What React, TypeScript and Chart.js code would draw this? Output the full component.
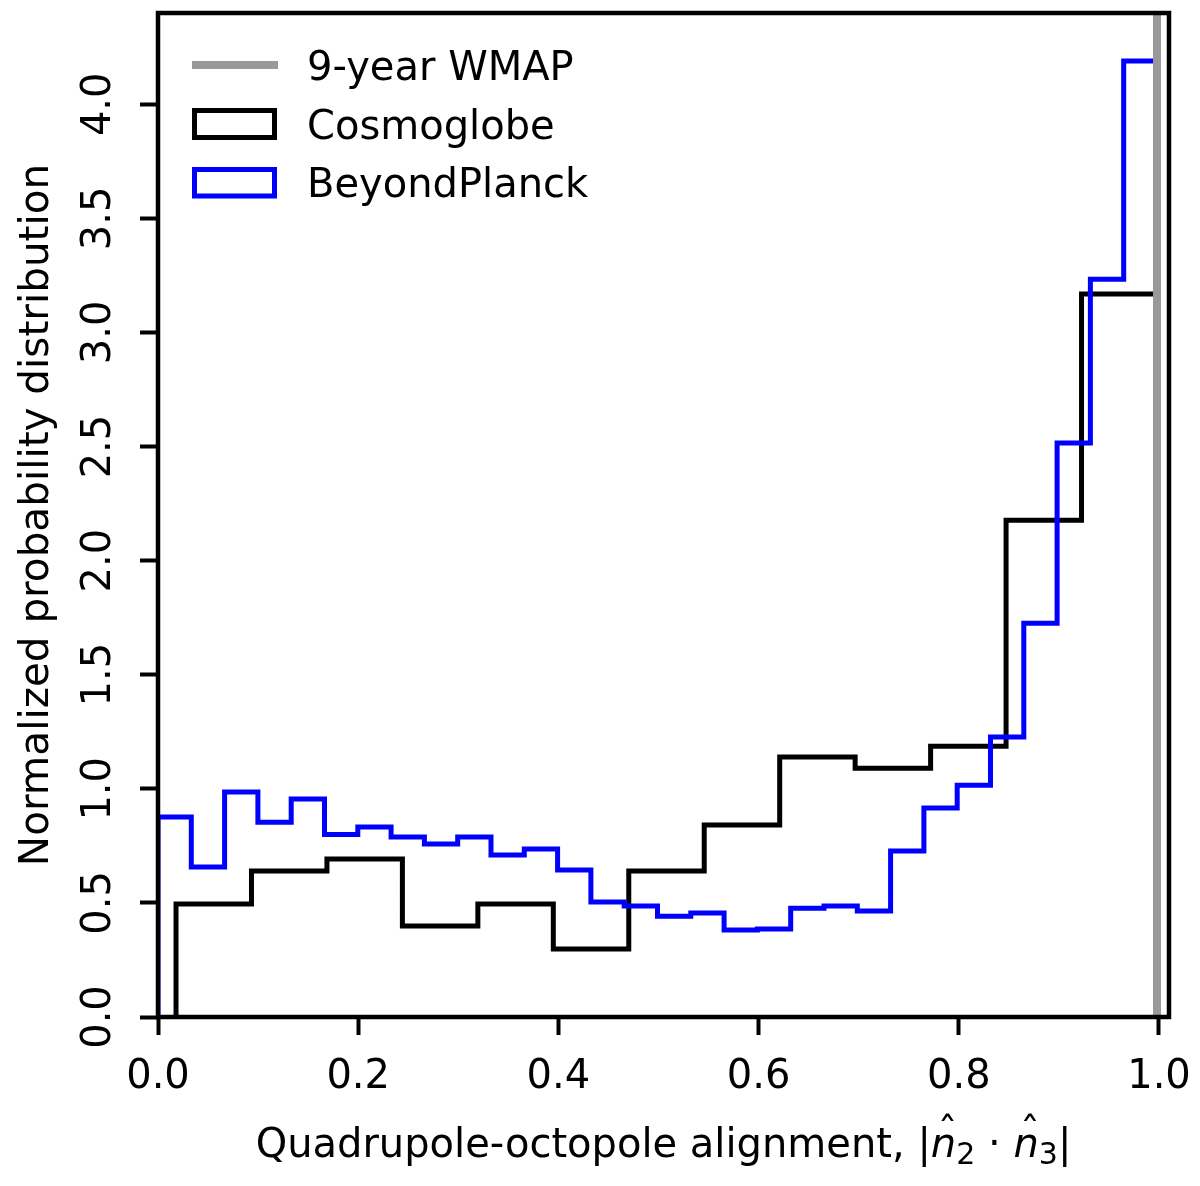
import React, { useEffect, useRef } from "react";
import { Chart, registerables } from "chart.js";

Chart.register(...registerables);

// ---- data ----
const cosmoglobeRange = [0.018, 0.998];
const cosmoglobeDensity = [
  0.495, 0.64, 0.692, 0.399, 0.495, 0.298, 0.64, 0.841, 1.139, 1.09, 1.187, 2.177, 3.168,
];
const beyondPlanckRange = [0.0, 0.998];
const beyondPlanckDensity = [
  0.876, 0.657, 0.986, 0.854, 0.955, 0.8, 0.833, 0.789, 0.758, 0.789,
  0.71, 0.736, 0.644, 0.504, 0.486, 0.442, 0.456, 0.381, 0.386, 0.477,
  0.486, 0.464, 0.727, 0.916, 1.016, 1.227, 1.726, 2.515, 3.233, 4.19,
];
const wmapAlignment = 0.998;
const xTickValues = [0, 0.2, 0.4, 0.6, 0.8, 1.0];
const xTickLabels = ["0.0", "0.2", "0.4", "0.6", "0.8", "1.0"];
const yTickValues = [0, 0.5, 1.0, 1.5, 2.0, 2.5, 3.0, 3.5, 4.0];
const yTickLabels = ["0.0", "0.5", "1.0", "1.5", "2.0", "2.5", "3.0", "3.5", "4.0"];
const legendLabels = ["9-year WMAP", "Cosmoglobe", "BeyondPlanck"];
const yTitle = "Normalized probability distribution";
const xTitleText = "Quadrupole-octopole alignment, ";

const X_MIN = 0;
const X_MAX = 1.01;
const Y_MIN = 0;
const Y_MAX = 4.4;

const FONT = '"DejaVu Sans", "Liberation Sans", sans-serif';
const FS = 40;

function stepPoints(range: number[], values: number[]) {
  const n = values.length;
  const w = (range[1] - range[0]) / n;
  const pts: { x: number; y: number }[] = [{ x: range[0], y: 0 }];
  values.forEach((v, i) => {
    const x0 = range[0] + i * w;
    pts.push({ x: x0, y: v });
    pts.push({ x: x0 + w, y: v });
  });
  pts.push({ x: range[1], y: 0 });
  return pts;
}

const decorPlugin = {
  id: "decor",
  afterDatasetsDraw(chart: any) {
    const { ctx, chartArea } = chart;
    ctx.save();
    ctx.strokeStyle = "#000";
    ctx.lineWidth = 4.5;
    ctx.lineJoin = "miter";
    ctx.strokeRect(
      chartArea.left,
      chartArea.top,
      chartArea.right - chartArea.left,
      chartArea.bottom - chartArea.top
    );
    ctx.restore();
  },
  afterDraw(chart: any) {
    const { ctx, chartArea, scales } = chart;
    const xs = scales.x;
    const ys = scales.y;
    ctx.save();
    ctx.fillStyle = "#000";
    ctx.font = `${FS}px ${FONT}`;
    // x tick labels
    ctx.textAlign = "center";
    ctx.textBaseline = "alphabetic";
    xTickValues.forEach((v, i) => {
      ctx.fillText(xTickLabels[i], xs.getPixelForValue(v), 1088);
    });
    // y tick labels (rotated)
    yTickValues.forEach((v, i) => {
      ctx.save();
      ctx.translate(110, ys.getPixelForValue(v));
      ctx.rotate(-Math.PI / 2);
      ctx.textAlign = "center";
      ctx.fillText(yTickLabels[i], 0, 0);
      ctx.restore();
    });
    // y title
    ctx.save();
    ctx.font = `40.5px ${FONT}`;
    ctx.translate(48, (chartArea.top + chartArea.bottom) / 2);
    ctx.rotate(-Math.PI / 2);
    ctx.textAlign = "center";
    ctx.fillText(yTitle, 0, 0);
    ctx.restore();

    // x title with math part
    const base = 1157;
    const normal = `${FS}px ${FONT}`;
    const italic = `italic ${FS}px ${FONT}`;
    const sub = `${Math.round(FS * 0.75)}px ${FONT}`;
    type Piece = { t: string; f: string; dy: number; hat?: boolean };
    const pieces: Piece[] = [
      { t: xTitleText, f: normal, dy: 0 },
      { t: "|", f: normal, dy: 0 },
      { t: "n", f: italic, dy: 0, hat: true },
      { t: "2", f: sub, dy: 7 },
      { t: " \u00B7 ", f: normal, dy: 0 },
      { t: "n", f: italic, dy: 0, hat: true },
      { t: "3", f: sub, dy: 7 },
      { t: "|", f: normal, dy: 0 },
    ];
    let total = 0;
    const widths = pieces.map((p) => {
      ctx.font = p.f;
      const w = ctx.measureText(p.t).width;
      total += w;
      return w;
    });
    let x = (chartArea.left + chartArea.right) / 2 - total / 2;
    ctx.textAlign = "left";
    pieces.forEach((p, i) => {
      ctx.font = p.f;
      ctx.fillText(p.t, x, base + p.dy);
      if (p.hat) {
        ctx.font = normal;
        ctx.textAlign = "center";
        ctx.fillText("\u02C6", x + widths[i] / 2 + 4, base - 11);
        ctx.textAlign = "left";
      }
      x += widths[i];
    });

    // legend
    ctx.font = normal;
    ctx.textAlign = "left";
    ctx.textBaseline = "alphabetic";
    ctx.strokeStyle = "#999999";
    ctx.lineWidth = 8;
    ctx.beginPath();
    ctx.moveTo(192, 65);
    ctx.lineTo(278, 65);
    ctx.stroke();
    ctx.fillText(legendLabels[0], 307, 80);
    ctx.lineWidth = 5;
    ctx.lineJoin = "miter";
    ctx.strokeStyle = "#000000";
    ctx.strokeRect(194.5, 110.5, 80, 27);
    ctx.fillText(legendLabels[1], 307, 139);
    ctx.strokeStyle = "#0000ff";
    ctx.strokeRect(194.5, 169.5, 80, 26.5);
    ctx.fillText(legendLabels[2], 307, 197);
    ctx.restore();
  },
};

export default function App() {
  const ref = useRef<HTMLCanvasElement | null>(null);
  useEffect(() => {
    document.body.style.margin = "0";
    const canvas = ref.current;
    if (!canvas) return;
    const chart = new Chart(canvas, {
      type: "line",
      data: {
        datasets: [
          {
            label: legendLabels[0],
            data: [
              { x: wmapAlignment, y: Y_MIN },
              { x: wmapAlignment, y: Y_MAX },
            ],
            borderColor: "#999999",
            borderWidth: 8,
            pointRadius: 0,
            fill: false,
            tension: 0,
          },
          {
            label: legendLabels[2],
            data: stepPoints(beyondPlanckRange, beyondPlanckDensity),
            borderColor: "#0000ff",
            borderWidth: 5,
            pointRadius: 0,
            fill: false,
            tension: 0,
            borderJoinStyle: "miter",
            borderCapStyle: "butt",
          },
          {
            label: legendLabels[1],
            data: stepPoints(cosmoglobeRange, cosmoglobeDensity),
            borderColor: "#000000",
            borderWidth: 5,
            pointRadius: 0,
            fill: false,
            tension: 0,
            borderJoinStyle: "miter",
            borderCapStyle: "butt",
          },
        ],
      },
      options: {
        animation: false,
        responsive: false,
        devicePixelRatio: 1,
        layout: { padding: { top: 13, right: 31, left: 0, bottom: 0 } },
        plugins: {
          legend: { display: false },
          tooltip: { enabled: false },
          title: { display: false },
        },
        scales: {
          x: {
            type: "linear",
            min: X_MIN,
            max: X_MAX,
            afterBuildTicks: (s: any) => {
              s.ticks = xTickValues.map((v) => ({ value: v }));
            },
            afterFit: (s: any) => {
              s.height = 169;
            },
            ticks: { display: false },
            grid: {
              drawOnChartArea: false,
              drawTicks: true,
              tickLength: 18,
              tickWidth: 4,
              tickColor: "#000",
              color: "#000",
            },
            border: { display: false },
          },
          y: {
            type: "linear",
            min: Y_MIN,
            max: Y_MAX,
            afterBuildTicks: (s: any) => {
              s.ticks = yTickValues.map((v) => ({ value: v }));
            },
            afterFit: (s: any) => {
              s.width = 158;
            },
            ticks: { display: false },
            grid: {
              drawOnChartArea: false,
              drawTicks: true,
              tickLength: 18,
              tickWidth: 4,
              tickColor: "#000",
              color: "#000",
            },
            border: { display: false },
          },
        },
      } as any,
      plugins: [decorPlugin],
    });
    return () => chart.destroy();
  }, []);
  return (
    <div style={{ width: 1200, height: 1186, background: "#fff" }}>
      <canvas ref={ref} width={1200} height={1186} style={{ display: "block" }} />
    </div>
  );
}
